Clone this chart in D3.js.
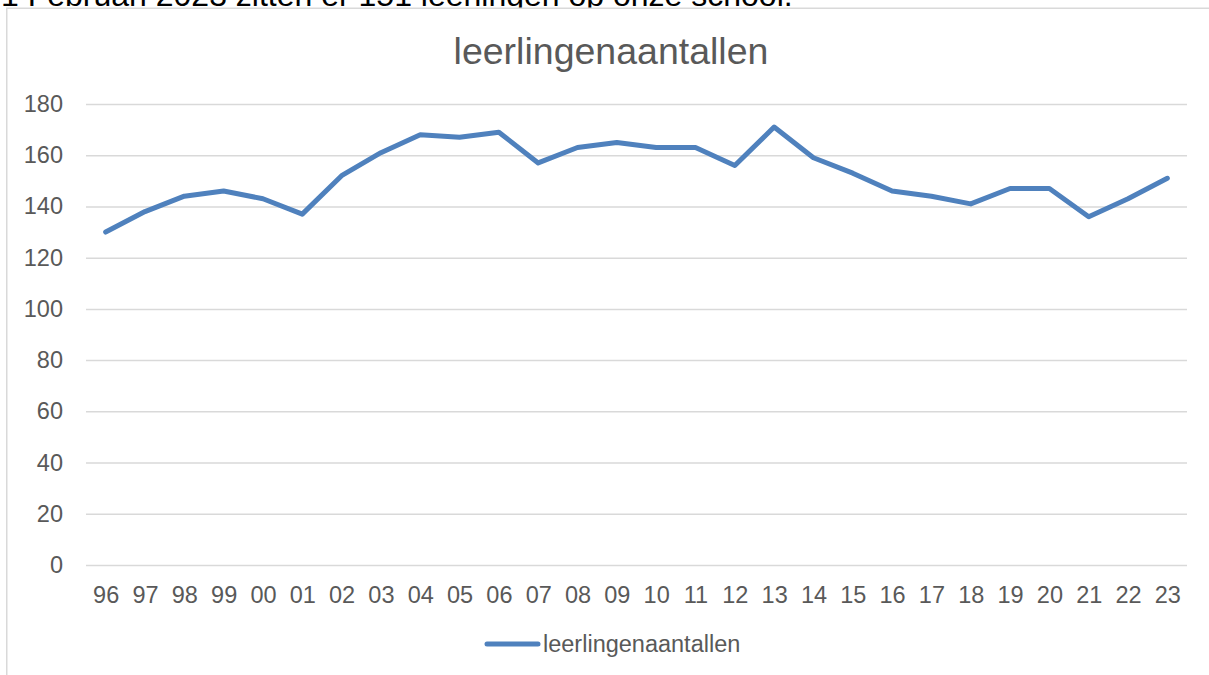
<!DOCTYPE html>
<html>
<head>
<meta charset="utf-8">
<script src="https://cdn.jsdelivr.net/npm/d3@7/dist/d3.min.js"></script>
<style>
  html, body { margin: 0; padding: 0; background: #ffffff; }
  svg { display: block; }
</style>
</head>
<body>
<svg id="chart" width="1209" height="675"></svg>
<script>
const headerText = "1 Februari 2023 zitten er 151 leerlingen op onze school.";
const chartTitle = "leerlingenaantallen";
const seriesName = "leerlingenaantallen";
const categories = ["96","97","98","99","00","01","02","03","04","05","06","07","08","09","10","11","12","13","14","15","16","17","18","19","20","21","22","23"];
const values = [130,138,144,146,143,137,152,161,168,167,169,157,163,165,163,163,156,171,159,153,146,144,141,147,147,136,143,151];
const yTicks = [0,20,40,60,80,100,120,140,160,180];

const svg = d3.select("#chart");
const font = "'Liberation Sans', Arial, sans-serif";
const textGray = "#595959";
const gridGray = "#d9d9d9";
const lineBlue = "#4f81bd";

// header text (cut at top, as in the reference)
svg.append("text")
  .attr("x", 1).attr("y", 6)
  .attr("font-family", font).attr("font-size", 32).attr("fill", "#000")
  .text(headerText);

// chart border
svg.append("rect")
  .attr("x", 6.75).attr("y", 8.25)
  .attr("width", 1400).attr("height", 900)
  .attr("fill", "#fff").attr("stroke", gridGray).attr("stroke-width", 1.5);

const x = d3.scalePoint().domain(categories).range([86, 1187]).padding(0.5);
const y = d3.scaleLinear().domain([0, 180]).range([565, 104]);

// title
svg.append("text")
  .attr("x", 611).attr("y", 64)
  .attr("text-anchor", "middle")
  .attr("font-family", font).attr("font-size", 37.5).attr("fill", textGray)
  .text(chartTitle);

// y gridlines and labels
const yAxis = d3.axisLeft(y).tickValues(yTicks).tickSize(-(1187 - 86)).tickPadding(23);
const gy = svg.append("g").attr("transform", "translate(86,0)").call(yAxis);
gy.select(".domain").remove();
gy.selectAll(".tick line").attr("stroke", gridGray).attr("stroke-width", 1.5);
gy.selectAll(".tick text")
  .attr("font-family", font).attr("font-size", 23.5).attr("fill", textGray);

// x labels
const xAxis = d3.axisBottom(x).tickSize(0).tickPadding(21);
const gx = svg.append("g").attr("transform", "translate(0,565)").call(xAxis);
gx.select(".domain").remove();
gx.selectAll(".tick text")
  .attr("font-family", font).attr("font-size", 23.5).attr("fill", textGray);

// line
const line = d3.line().x((d, i) => x(categories[i])).y(d => y(d));
svg.append("path")
  .datum(values)
  .attr("d", line)
  .attr("fill", "none")
  .attr("stroke", lineBlue)
  .attr("stroke-width", 5)
  .attr("stroke-linejoin", "round")
  .attr("stroke-linecap", "round");

// legend
const lg = svg.append("g");
lg.append("line")
  .attr("x1", 487).attr("x2", 538).attr("y1", 644).attr("y2", 644)
  .attr("stroke", lineBlue).attr("stroke-width", 5).attr("stroke-linecap", "round");
lg.append("text")
  .attr("x", 543).attr("y", 652)
  .attr("font-family", font).attr("font-size", 23.5).attr("fill", textGray)
  .text(seriesName);
</script>
</body>
</html>
